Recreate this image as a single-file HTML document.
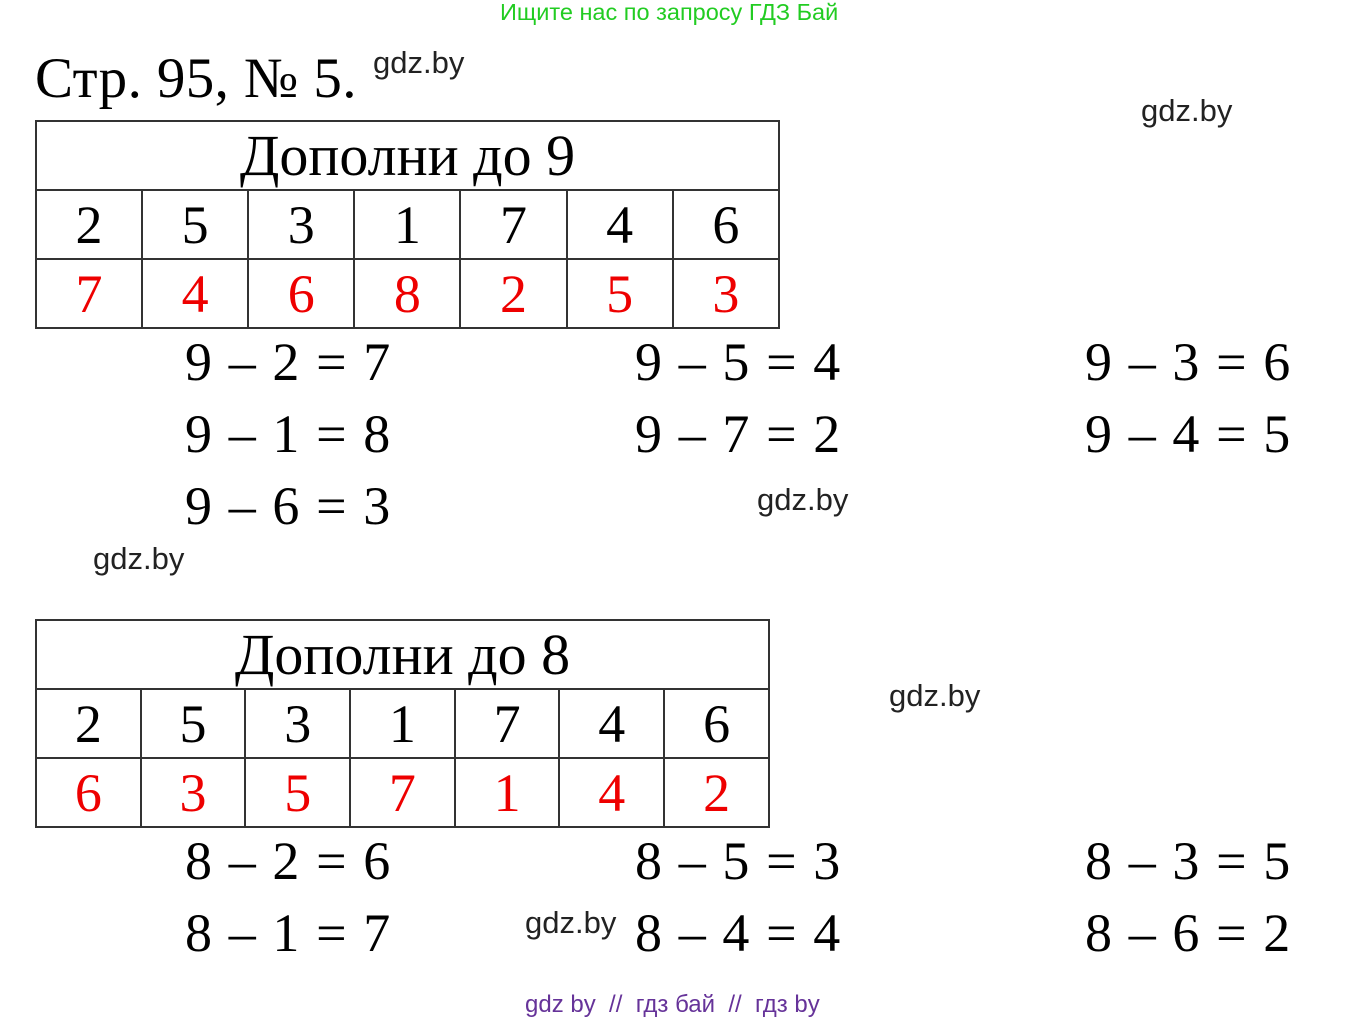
<!DOCTYPE html>
<html><head><meta charset="utf-8"><style>
body{margin:0;width:1350px;height:1023px;background:#fff;position:relative;overflow:hidden;font-family:"Liberation Serif",serif}
.a{position:absolute;white-space:nowrap;line-height:1}
.s{font-family:"Liberation Sans",sans-serif}
.g{font-family:"Liberation Sans",sans-serif;font-size:31px;color:#222}
table{position:absolute;border-collapse:collapse}
td{border:2px solid #333;text-align:center;font-size:54px;padding:0;line-height:1}
td.t{font-size:58px}
.r td{color:#e00}
.eq{font-size:54px;letter-spacing:1.6px}
</style></head><body>
<div class="a s" style="left:500px;top:1px;font-size:23.5px;color:#2c2">Ищите нас по запросу ГДЗ Бай</div>
<div class="a" style="left:35px;top:50px;font-size:57px;letter-spacing:0.4px">Стр. 95, № 5.</div>
<div class="a g" style="left:373px;top:47px">gdz.by</div>
<div class="a g" style="left:1141px;top:95px">gdz.by</div>

<table style="left:35px;top:120px;width:745px">
<tr style="height:69px"><td colspan="7" class="t">Дополни до 9</td></tr>
<tr style="height:69px"><td>2</td><td>5</td><td>3</td><td>1</td><td>7</td><td>4</td><td>6</td></tr>
<tr class="r" style="height:69px"><td>7</td><td>4</td><td>6</td><td>8</td><td>2</td><td>5</td><td>3</td></tr>
</table>

<div class="a eq" style="left:185px;top:335px">9 – 2 = 7</div>
<div class="a eq" style="left:635px;top:335px">9 – 5 = 4</div>
<div class="a eq" style="left:1085px;top:335px">9 – 3 = 6</div>
<div class="a eq" style="left:185px;top:407px">9 – 1 = 8</div>
<div class="a eq" style="left:635px;top:407px">9 – 7 = 2</div>
<div class="a eq" style="left:1085px;top:407px">9 – 4 = 5</div>
<div class="a eq" style="left:185px;top:479px">9 – 6 = 3</div>
<div class="a g" style="left:757px;top:484px">gdz.by</div>
<div class="a g" style="left:93px;top:543px">gdz.by</div>

<table style="left:35px;top:619px;width:735px">
<tr style="height:69px"><td colspan="7" class="t">Дополни до 8</td></tr>
<tr style="height:69px"><td>2</td><td>5</td><td>3</td><td>1</td><td>7</td><td>4</td><td>6</td></tr>
<tr class="r" style="height:69px"><td>6</td><td>3</td><td>5</td><td>7</td><td>1</td><td>4</td><td>2</td></tr>
</table>
<div class="a g" style="left:889px;top:680px">gdz.by</div>

<div class="a eq" style="left:185px;top:834px">8 – 2 = 6</div>
<div class="a eq" style="left:635px;top:834px">8 – 5 = 3</div>
<div class="a eq" style="left:1085px;top:834px">8 – 3 = 5</div>
<div class="a eq" style="left:185px;top:906px">8 – 1 = 7</div>
<div class="a eq" style="left:635px;top:906px">8 – 4 = 4</div>
<div class="a eq" style="left:1085px;top:906px">8 – 6 = 2</div>
<div class="a g" style="left:525px;top:907px">gdz.by</div>
<div class="a s" style="left:525px;top:993px;font-size:24px;color:#639">gdz by &nbsp;// &nbsp;гдз бай &nbsp;// &nbsp;гдз by</div>
</body></html>
